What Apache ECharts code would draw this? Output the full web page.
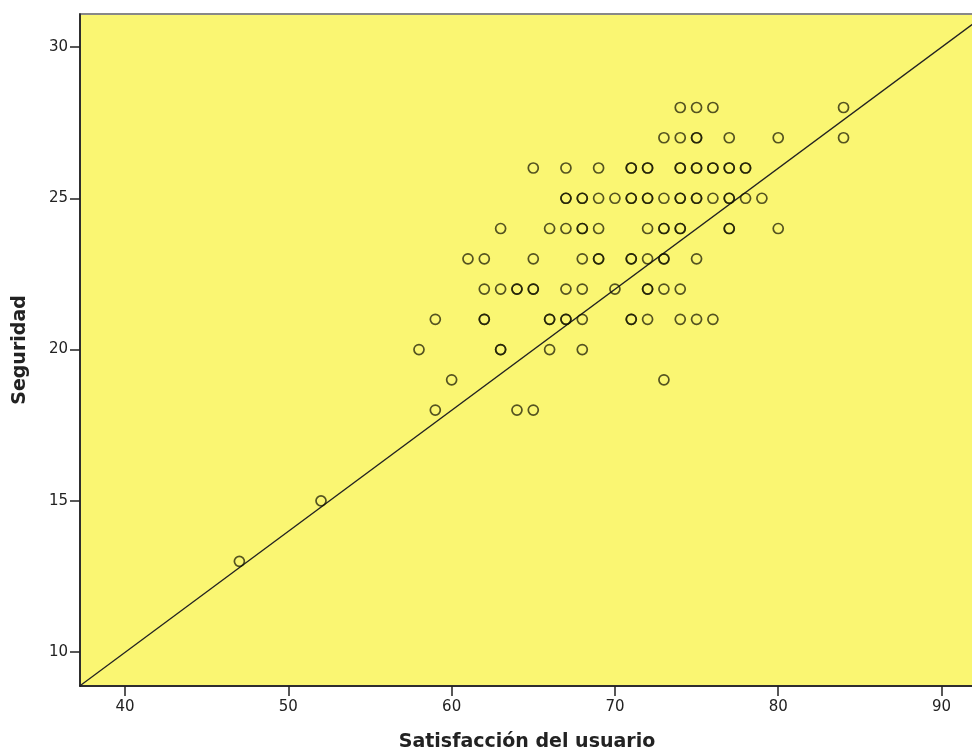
<!DOCTYPE html>
<html>
<head>
<meta charset="utf-8">
<script src="https://cdn.jsdelivr.net/npm/echarts@6/dist/echarts.min.js"></script>
<style>html,body{margin:0;padding:0;background:#fff}#c{width:972px;height:753px}</style>
</head>
<body>
<div id="c"></div>
<script>
// Data (duplicates where circles look darker/overlapping)
const satisfaccion = [
  74, 75, 76, 84,
  73, 74, 75, 75, 77, 80, 84,
  65, 67, 69, 71, 71, 72, 72, 74, 74, 75, 75, 76, 76, 77, 77, 78, 78,
  67, 67, 68, 68, 69, 70, 71, 71, 72, 72, 73, 74, 74, 75, 75, 76, 77, 77, 78, 79,
  63, 66, 67, 68, 68, 69, 72, 73, 73, 74, 74, 77, 77, 80,
  61, 62, 65, 68, 69, 69, 71, 71, 72, 73, 73, 75,
  62, 63, 64, 64, 65, 65, 67, 68, 70, 72, 72, 73, 74,
  59, 62, 62, 66, 66, 67, 67, 68, 71, 71, 72, 74, 75, 76,
  58, 63, 63, 66, 68,
  60, 73,
  59, 64, 65,
  52,
  47
];
const seguridad = [
  28, 28, 28, 28,
  27, 27, 27, 27, 27, 27, 27,
  26, 26, 26, 26, 26, 26, 26, 26, 26, 26, 26, 26, 26, 26, 26, 26, 26,
  25, 25, 25, 25, 25, 25, 25, 25, 25, 25, 25, 25, 25, 25, 25, 25, 25, 25, 25, 25,
  24, 24, 24, 24, 24, 24, 24, 24, 24, 24, 24, 24, 24, 24,
  23, 23, 23, 23, 23, 23, 23, 23, 23, 23, 23, 23,
  22, 22, 22, 22, 22, 22, 22, 22, 22, 22, 22, 22, 22,
  21, 21, 21, 21, 21, 21, 21, 21, 21, 21, 21, 21, 21, 21,
  20, 20, 20, 20, 20,
  19, 19,
  18, 18, 18,
  15,
  13
];
const xTicks = [40, 50, 60, 70, 80, 90];
const yTicks = [10, 15, 20, 25, 30];
const xRange = [37.24, 91.99];
const yRange = [8.88, 31.09];
const REG_SLOPE = 0.4;
const REG_INTERCEPT = -6.01;
const xName = 'Satisfacción del usuario';
const yName = 'Seguridad';

const points = satisfaccion.map((v, i) => [v, seguridad[i]]);
const regLine = xRange.map(x => [x, REG_INTERCEPT + REG_SLOPE * x]);

const chart = echarts.init(document.getElementById('c'), null, {renderer: 'canvas'});
const FONT = 'DejaVu Sans, Verdana, sans-serif';
const axisFont = {fontFamily: FONT, fontSize: 15, color: '#222'};
const nameFont = {fontFamily: FONT, fontSize: 19, fontWeight: 'bold', color: '#222'};
chart.setOption({
  animation: false,
  backgroundColor: '#fff',
  grid: {
    left: 80, top: 14, right: -2, bottom: 67,
    containLabel: false, outerBoundsMode: 'none',
    show: true, backgroundColor: '#FAF672', borderColor: '#888', borderWidth: 2
  },
  xAxis: {
    type: 'value', min: xRange[0], max: xRange[1],
    name: xName, nameLocation: 'middle', nameGap: 47,
    nameTextStyle: nameFont,
    axisLine: {show: true, onZero: false, lineStyle: {color: '#111', width: 1.5}},
    axisTick: {show: true, length: 10, customValues: xTicks, lineStyle: {color: '#222', width: 1.5}},
    axisLabel: Object.assign({customValues: xTicks, margin: 14}, axisFont),
    splitLine: {show: false}
  },
  yAxis: {
    type: 'value', min: yRange[0], max: yRange[1],
    name: yName, nameLocation: 'middle', nameGap: 50, nameRotate: 90,
    nameTextStyle: nameFont,
    axisLine: {show: true, onZero: false, lineStyle: {color: '#111', width: 1.5}},
    axisTick: {show: true, length: 10, customValues: yTicks, lineStyle: {color: '#222', width: 1.5}},
    axisLabel: Object.assign({customValues: yTicks, margin: 12}, axisFont),
    splitLine: {show: false}
  },
  series: [
    {
      type: 'line', data: regLine, symbol: 'none', silent: true,
      lineStyle: {color: '#222', width: 1.3}, z: 2
    },
    {
      type: 'scatter', data: points, symbol: 'circle', symbolSize: 10,
      itemStyle: {color: 'rgba(0,0,0,0)', borderColor: 'rgba(20,20,0,0.72)', borderWidth: 1.7, opacity: 1},
      z: 3
    }
  ]
});
</script>
</body>
</html>
